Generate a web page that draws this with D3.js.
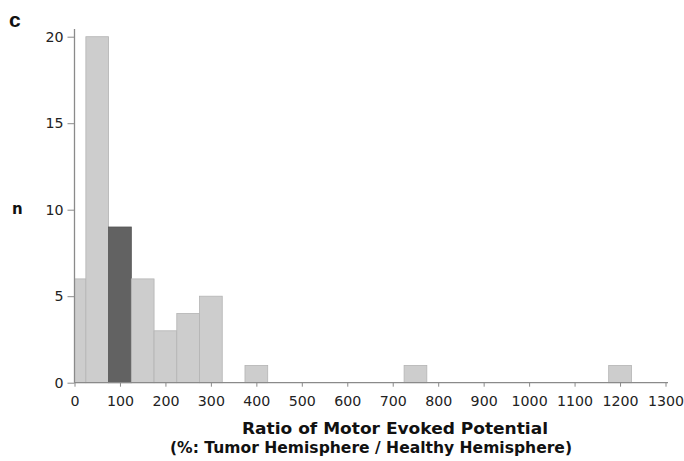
<!DOCTYPE html>
<html><head><meta charset="utf-8">
<script src="https://cdn.jsdelivr.net/npm/d3@7"></script>
<style>body{margin:0;background:#fff}svg{display:block}</style>
</head><body>
<svg id="c" width="684" height="461"></svg>
<script>
const binCenters = [0, 50, 100, 150, 200, 250, 300, 400, 750, 1200];
const counts = [6, 20, 9, 6, 3, 4, 5, 1, 1, 1];
const highlightBin = 100;
const binWidth = 50;
const xTicks = [0,100,200,300,400,500,600,700,800,900,1000,1100,1200,1300];
const yTicks = [0,5,10,15,20];
const xTitle1 = "Ratio of Motor Evoked Potential";
const xTitle2 = "(%:  Tumor Hemisphere / Healthy Hemisphere)";
const panelLabel = "c";
const yTitle = "n";

const svg = d3.select("#c");
const x = d3.scaleLinear().domain([0,1300]).range([74.5,665.5]);
const y = d3.scaleLinear().domain([0,20]).range([382.7,36.7]);

const data = binCenters.map((c,i)=>({c, n:counts[i]}));
svg.append("g").selectAll("rect").data(data).join("rect")
  .attr("x", d=>x(Math.max(0,d.c-binWidth/2)))
  .attr("width", d=>x(d.c+binWidth/2)-x(Math.max(0,d.c-binWidth/2)))
  .attr("y", d=>y(d.n))
  .attr("height", d=>y(0)-y(d.n))
  .attr("fill", d=>d.c===highlightBin?"#626262":"#cdcdcd")
  .attr("stroke", d=>d.c===highlightBin?"#555":"#b4b4b4")
  .attr("stroke-width",0.8);

const fontT = "'DejaVu Sans', sans-serif";
const xa = svg.append("g").attr("transform",`translate(0,${y(0)})`)
  .call(d3.axisBottom(x).tickValues(xTicks).tickFormat(d3.format("d")).tickSize(4).tickSizeOuter(0).tickPadding(12));
const ya = svg.append("g").attr("transform",`translate(${x(0)},0)`)
  .call(d3.axisLeft(y).tickValues(yTicks).tickSize(7).tickSizeOuter(0).tickPadding(4));
[xa,ya].forEach(a=>{
  a.select(".domain").attr("stroke","#8a8a8a").attr("stroke-width",1.3);
  a.selectAll(".tick line").attr("stroke","#8a8a8a");
  a.selectAll("text").attr("fill","#222").style("font-family",fontT).style("font-size","14.2px");
});
xa.selectAll("text").attr("dy","0.5em");
xa.select(".domain").attr("d",`M${x(0)},0H668`);
ya.select(".domain").attr("d",`M0,${y(0)}V29`);

const titleStyle = t => t.attr("text-anchor","middle").attr("lengthAdjust","spacingAndGlyphs")
  .style("font-family",fontT).style("font-weight","bold").style("font-size","15.8px").attr("fill","#111");
svg.append("text").attr("x",395).attr("y",434).attr("textLength",306).call(titleStyle).text(xTitle1);
svg.append("text").attr("x",371).attr("y",452.5).attr("textLength",402).call(titleStyle).text(xTitle2);
svg.append("text").attr("x",9).attr("y",27)
  .style("font-family","'Liberation Sans', Arial, sans-serif").style("font-weight","bold").style("font-size","21px").attr("fill","#111").text(panelLabel);
svg.append("text").attr("x",12).attr("y",214)
  .style("font-family",fontT).style("font-weight","bold").style("font-size","15px").attr("fill","#111").text(yTitle);
</script>
</body></html>
